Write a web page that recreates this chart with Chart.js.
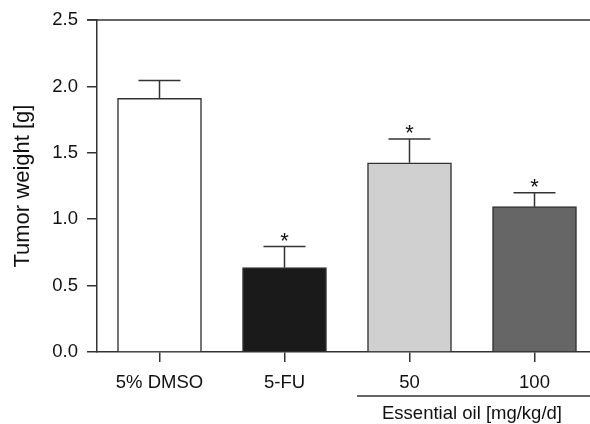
<!DOCTYPE html>
<html>
<head>
<meta charset="utf-8">
<script src="https://cdn.jsdelivr.net/npm/chart.js@4"></script>
<style>
    html, body { margin: 0; padding: 0; background: #fff; overflow: hidden; }
    #wrap { width: 590px; height: 424px; }
</style>
</head>
<body>
<div id="wrap"><canvas id="tumor-chart" width="590" height="424"></canvas></div>
<script>
// values
const categories = ['5% DMSO', '5-FU', '50', '100'];
const means = [1.91, 0.635, 1.425, 1.095];
const errors = [0.135, 0.16, 0.18, 0.105];
const marks = ['', '*', '*', '*'];
const barColors = ['#ffffff', '#1a1a1a', '#d0d0d0', '#666666'];
const yTicks = [0, 0.5, 1, 1.5, 2, 2.5];
const groupLabel = 'Essential oil [mg/kg/d]';
const groupFrom = 2; // first category under the group line

const FONT = '"Liberation Sans", Arial, sans-serif';
const INK = '#111';
const AXIS = '#333';

// error bars, asterisks, top border and the group label under 50/100
const extras = {
    id: 'extras',
    afterDatasetsDraw(chart) {
        const { ctx, chartArea, scales: { x, y } } = chart;
        ctx.save();
        ctx.strokeStyle = AXIS;
        ctx.lineWidth = 1.5;

        // top frame line
        ctx.beginPath();
        ctx.moveTo(chartArea.left - 10, chartArea.top);
        ctx.lineTo(chartArea.right, chartArea.top);
        ctx.stroke();

        means.forEach((m, i) => {
            const cx = x.getPixelForValue(i);
            const yBar = y.getPixelForValue(m);
            const yErr = y.getPixelForValue(m + errors[i]);
            ctx.beginPath();
            ctx.moveTo(cx, yBar);
            ctx.lineTo(cx, yErr);
            ctx.moveTo(cx - 21, yErr);
            ctx.lineTo(cx + 21, yErr);
            ctx.stroke();

            if (marks[i]) {
                ctx.fillStyle = INK;
                ctx.font = `22px ${FONT}`;
                ctx.textAlign = 'center';
                ctx.textBaseline = 'alphabetic';
                ctx.fillText(marks[i], cx, yErr + 1.5);
            }
        });

        // group bracket line + label
        const gx0 = (x.getPixelForValue(groupFrom - 1) + x.getPixelForValue(groupFrom)) / 2 + 10;
        const lineY = chartArea.bottom + 44;
        ctx.beginPath();
        ctx.moveTo(gx0, lineY);
        ctx.lineTo(chart.width, lineY);
        ctx.stroke();

        const gmid = (x.getPixelForValue(groupFrom) + x.getPixelForValue(categories.length - 1)) / 2;
        ctx.fillStyle = INK;
        ctx.font = `18.5px ${FONT}`;
        ctx.textAlign = 'center';
        ctx.textBaseline = 'middle';
        ctx.fillText(groupLabel, gmid, lineY + 18);
        ctx.restore();
    }
};

new Chart(document.getElementById('tumor-chart'), {
    type: 'bar',
    data: {
        datasets: [{
            data: means.map((v, i) => ({ x: i, y: v })),
            backgroundColor: barColors,
            borderColor: AXIS,
            borderWidth: 1.5,
            barThickness: 84
        }]
    },
    options: {
        responsive: false,
        animation: false,
        layout: { padding: { top: 20, right: 0, bottom: 0, left: 0 } },
        plugins: {
            legend: { display: false },
            tooltip: { enabled: false }
        },
        scales: {
            x: {
                type: 'linear',
                offset: false,
                min: -0.5,
                max: 3.444,
                afterBuildTicks: (scale) => {
                    scale.ticks = categories.map((_, i) => ({ value: i }));
                },
                afterFit: (scale) => { scale.height = 72; },
                grid: {
                    offset: false,
                    drawOnChartArea: false,
                    drawTicks: true,
                    tickLength: 10,
                    color: AXIS,
                    lineWidth: 1.5
                },
                border: { display: true, color: AXIS, width: 1.5 },
                ticks: {
                    padding: 10,
                    color: INK,
                    font: { family: FONT, size: 18.5 },
                    maxRotation: 0,
                    autoSkip: false,
                    callback: (v) => categories[v]
                }
            },
            y: {
                min: 0,
                max: 2.5,
                afterBuildTicks: (scale) => {
                    scale.ticks = yTicks.map(v => ({ value: v }));
                },
                afterFit: (scale) => { scale.width = 97; },
                grid: {
                    drawOnChartArea: false,
                    drawTicks: true,
                    tickLength: 10,
                    color: AXIS,
                    lineWidth: 1.5
                },
                border: { display: true, color: AXIS, width: 1.5 },
                ticks: {
                    padding: 9,
                    color: INK,
                    font: { family: FONT, size: 18.5 },
                    callback: (v) => Number(v).toFixed(1)
                },
                title: {
                    display: true,
                    text: 'Tumor weight [g]',
                    color: INK,
                    font: { family: FONT, size: 22 },
                    padding: { top: 10, bottom: 0 }
                }
            }
        }
    },
    plugins: [extras]
});
</script>
</body>
</html>
